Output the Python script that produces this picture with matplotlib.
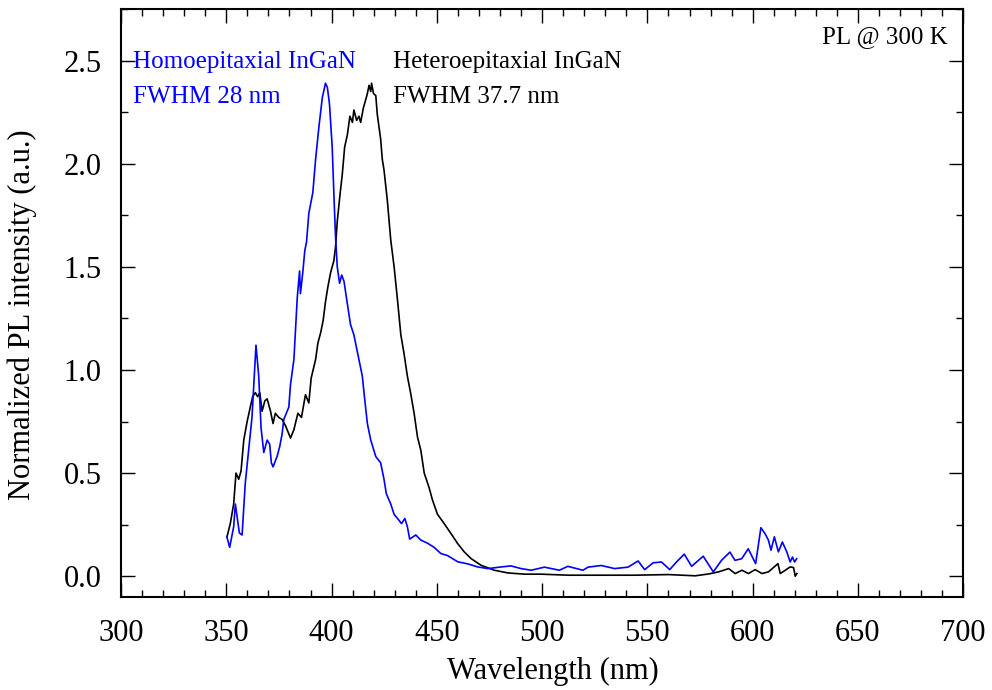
import matplotlib
matplotlib.use("Agg")
import matplotlib.pyplot as plt
from matplotlib.ticker import MultipleLocator

plt.rcParams['font.family'] = ['Liberation Serif', 'DejaVu Serif']
plt.rcParams['mathtext.fontset'] = 'stix'

# Homoepitaxial InGaN (blue)
homo_wl = [350.3, 351.6, 353.5, 354.3, 356.2, 357.5, 359.0, 360.6, 362.2, 364.1, 365.4, 366.5,
           367.8, 369.4, 370.6, 371.4, 372.2, 374.1, 375.4, 376.5, 377.3, 379.7, 380.5, 382.1,
           383.7, 384.8, 385.2, 386.3, 387.3, 388.1, 389.2, 391.1, 392.4, 394.0, 395.6, 397.1,
           398.0, 399.0, 400.3, 401.1, 401.9, 402.7, 403.8, 404.8, 405.9, 407.5, 409.0, 410.6,
           413.0, 414.6, 415.4, 417.0, 418.6, 421.0, 423.3, 424.9, 426.0, 428.1, 429.7, 432.1,
           433.2, 434.8, 436.0, 437.1, 440.0, 442.4, 445.6, 448.7, 451.9, 455.1, 459.9, 464.6,
           469.4, 474.2, 480.5, 485.2, 490.0, 494.8, 501.1, 508.2, 512.2, 519.4, 521.8, 528.1,
           534.4, 540.8, 545.6, 548.7, 552.7, 556.7, 560.6, 563.8, 567.5, 571.0, 576.5, 581.3,
           585.2, 589.2, 591.6, 594.8, 597.9, 601.4, 603.9, 605.9, 607.5, 608.7, 610.3, 612.2,
           614.1, 616.2, 617.8, 618.9, 619.9, 620.9]
homo_int = [0.19, 0.14, 0.24, 0.35, 0.21, 0.20, 0.45, 0.61, 0.77, 1.12, 0.97, 0.72,
            0.60, 0.66, 0.64, 0.55, 0.53, 0.58, 0.63, 0.69, 0.76, 0.82, 0.93, 1.05,
            1.35, 1.48, 1.37, 1.47, 1.58, 1.62, 1.76, 1.86, 2.02, 2.18, 2.32, 2.39,
            2.37, 2.29, 2.08, 1.85, 1.64, 1.50, 1.42, 1.46, 1.43, 1.32, 1.22, 1.17,
            1.05, 0.97, 0.89, 0.74, 0.66, 0.58, 0.55, 0.47, 0.40, 0.35, 0.30, 0.27,
            0.255, 0.28, 0.24, 0.18, 0.20, 0.175, 0.16, 0.14, 0.11, 0.10, 0.07, 0.06,
            0.045, 0.037, 0.045, 0.05, 0.037, 0.029, 0.044, 0.029, 0.048, 0.029, 0.044, 0.052,
            0.037, 0.044, 0.074, 0.032, 0.065, 0.069, 0.032, 0.069, 0.107, 0.048, 0.097, 0.021,
            0.077, 0.117, 0.077, 0.085, 0.133, 0.061, 0.235, 0.206, 0.174, 0.126, 0.191, 0.118,
            0.166, 0.118, 0.069, 0.093, 0.069, 0.085]

# Heteroepitaxial InGaN (black)
hetero_wl = [350.3, 351.9, 353.5, 354.6, 355.9, 357.0, 358.3, 359.9, 361.4, 362.5, 363.8, 364.9,
             365.9, 367.0, 368.3, 369.4, 371.0, 372.2, 373.3, 374.9, 376.5, 378.1, 380.5, 382.1,
             384.0, 385.7, 387.6, 389.2, 390.3, 392.4, 393.5, 394.8, 396.0, 397.1, 398.2, 399.5,
             401.1, 401.9, 402.7, 404.0, 405.1, 406.2, 407.5, 408.7, 409.9, 410.6, 411.9, 413.0,
             413.8, 415.1, 416.2, 417.0, 417.8, 418.6, 419.0, 419.9, 421.0, 421.7, 423.3, 424.1,
             424.9, 426.5, 428.1, 429.7, 431.3, 432.9, 434.4, 436.0, 437.6, 439.2, 440.8, 442.4,
             444.0, 446.3, 447.9, 450.3, 453.5, 456.7, 459.9, 463.0, 466.2, 471.0, 477.3, 483.7,
             491.6, 499.5, 512.2, 528.0, 544.0, 560.0, 572.7, 579.1, 583.8, 588.6, 591.7, 594.9,
             598.0, 601.2, 604.4, 607.5, 612.0, 613.1, 615.5, 617.8, 619.4, 620.2, 621.0]
hetero_int = [0.19, 0.255, 0.35, 0.50, 0.47, 0.51, 0.66, 0.75, 0.82, 0.87, 0.89, 0.87,
              0.89, 0.80, 0.85, 0.86, 0.80, 0.74, 0.79, 0.77, 0.76, 0.73, 0.67, 0.71,
              0.79, 0.77, 0.88, 0.84, 0.96, 1.05, 1.13, 1.18, 1.24, 1.33, 1.40, 1.47,
              1.53, 1.60, 1.72, 1.85, 1.95, 2.08, 2.14, 2.23, 2.20, 2.26, 2.21, 2.23,
              2.20, 2.27, 2.31, 2.34, 2.38, 2.35, 2.39, 2.34, 2.33, 2.24, 2.12, 2.02,
              1.97, 1.82, 1.63, 1.50, 1.34, 1.17, 1.08, 0.97, 0.885, 0.79, 0.675, 0.61,
              0.50, 0.43, 0.37, 0.30, 0.255, 0.207, 0.158, 0.118, 0.086, 0.053, 0.029, 0.016,
              0.010, 0.010, 0.005, 0.005, 0.005, 0.008, 0.002, 0.011, 0.021, 0.037, 0.013, 0.029,
              0.013, 0.032, 0.013, 0.021, 0.061, 0.013, 0.029, 0.045, 0.042, 0.0, 0.013]

fig = plt.figure(figsize=(9.92, 6.9), dpi=100)
ax = fig.add_axes([0.122, 0.135, 0.849, 0.852])

ax.plot(hetero_wl, hetero_int, color='black', lw=1.2)
ax.plot(homo_wl, homo_int, color='#0000ff', lw=1.2)

ax.set_xlim(300, 700)
ax.set_ylim(-0.1, 2.75)
ax.xaxis.set_major_locator(MultipleLocator(50))
ax.xaxis.set_minor_locator(MultipleLocator(10))
ax.yaxis.set_major_locator(MultipleLocator(0.5))
ax.yaxis.set_minor_locator(MultipleLocator(0.25))
ax.yaxis.set_major_formatter(plt.FuncFormatter(lambda v, p: f"{v:.1f}"))
ax.tick_params(which='both', direction='in', top=True, right=True, labelsize=22, width=1.0)
ax.tick_params(which='major', length=10)
ax.tick_params(axis='x', which='major', pad=16)
ax.tick_params(axis='y', which='major', pad=14)
ax.tick_params(which='minor', length=5)
for s in ax.spines.values():
    s.set_linewidth(1.5)

ax.set_xlabel('Wavelength (nm)', fontsize=22)
ax.set_ylabel('Normalized PL intensity (a.u.)', fontsize=22)
ax.xaxis.set_label_coords(0.513, -0.103)
ax.yaxis.set_label_coords(-0.1, 0.48)

ax.text(0.0143, 0.909, 'Homoepitaxial InGaN', transform=ax.transAxes, color='#0000ff', fontsize=18, va='center')
ax.text(0.0143, 0.851, 'FWHM 28 nm', transform=ax.transAxes, color='#0000ff', fontsize=18, va='center')
ax.text(0.323, 0.909, 'Heteroepitaxial InGaN', transform=ax.transAxes, color='black', fontsize=18, va='center')
ax.text(0.323, 0.851, 'FWHM 37.7 nm', transform=ax.transAxes, color='black', fontsize=18, va='center')
ax.text(0.982, 0.953, 'PL @ 300 K', transform=ax.transAxes, color='black', fontsize=18, va='center', ha='right')

fig.savefig('out.png', dpi=100)
